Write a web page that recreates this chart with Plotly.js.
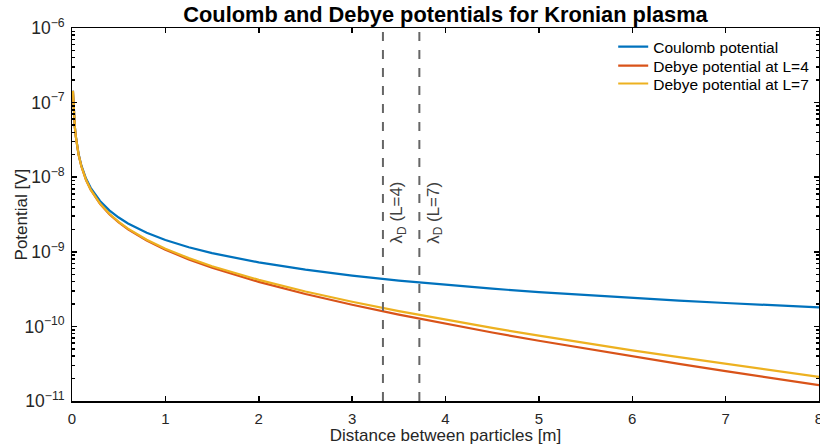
<!DOCTYPE html>
<html>
<head>
<meta charset="utf-8">
<script src="https://cdn.plot.ly/plotly-3.0.1.min.js"></script>
<style>html,body{margin:0;padding:0;background:#fff}#chart{width:820px;height:448px}</style>
</head>
<body>
<div id="chart"></div>
<script>
// Distance between particles [m]
var distance = [0.01, 0.02, 0.03, 0.04, 0.05, 0.07, 0.1, 0.15, 0.2, 0.25, 0.3, 0.4, 0.5, 0.6, 0.7, 0.8, 1.0, 1.25, 1.5, 2, 2.5, 3, 3.5, 4, 4.5, 5, 5.5, 6, 6.5, 7, 7.5, 8];
// Potential [V]
var coulomb = [1.44e-7, 7.2e-8, 4.8e-8, 3.6e-8, 2.88e-8, 2.06e-8, 1.44e-8, 9.6e-9, 7.2e-9, 5.76e-9, 4.8e-9, 3.6e-9, 2.88e-9, 2.4e-9, 2.06e-9, 1.8e-9, 1.44e-9, 1.15e-9, 9.6e-10, 7.2e-10, 5.76e-10, 4.8e-10, 4.11e-10, 3.6e-10, 3.2e-10, 2.88e-10, 2.62e-10, 2.4e-10, 2.22e-10, 2.06e-10, 1.92e-10, 1.8e-10];
var debyeL4 = [1.436e-7, 7.16e-8, 4.76e-8, 3.56e-8, 2.84e-8, 2.02e-8, 1.40e-8, 9.18e-9, 6.78e-9, 5.34e-9, 4.39e-9, 3.19e-9, 2.48e-9, 2.00e-9, 1.67e-9, 1.415e-9, 1.067e-9, 7.91e-10, 6.12e-10, 3.95e-10, 2.72e-10, 1.95e-10, 1.44e-10, 1.083e-10, 8.29e-11, 6.42e-11, 5.03e-11, 3.96e-11, 3.15e-11, 2.52e-11, 2.02e-11, 1.63e-11];
var debyeL7 = [1.436e-7, 7.16e-8, 4.76e-8, 3.56e-8, 2.84e-8, 2.02e-8, 1.402e-8, 9.22e-9, 6.82e-9, 5.39e-9, 4.43e-9, 3.23e-9, 2.52e-9, 2.04e-9, 1.70e-9, 1.452e-9, 1.10e-9, 8.23e-10, 6.41e-10, 4.21e-10, 2.94e-10, 2.14e-10, 1.605e-10, 1.228e-10, 9.55e-11, 7.51e-11, 5.97e-11, 4.78e-11, 3.87e-11, 3.14e-11, 2.56e-11, 2.10e-11];
var seriesNames = ["Coulomb potential", "Debye potential at L=4", "Debye potential at L=7"];
// Debye lengths [m]
var debyeLengths = [3.33, 3.72];
var debyeLabels = ["λ<sub>D</sub> (L=4)", "λ<sub>D</sub> (L=7)"];
var xTicks = [0, 1, 2, 3, 4, 5, 6, 7, 8];

var colors = ["#0072BD", "#D95319", "#EDB120"];
var legendIds = ["legend", "legend2", "legend3"];
var ys = [coulomb, debyeL4, debyeL7];
var traces = ys.map(function (y, i) {
  return {x: distance, y: y, type: "scatter", mode: "lines", name: seriesNames[i],
    legend: legendIds[i], line: {color: colors[i], width: 2.2}};
});

var fam = "'Liberation Sans', Arial, Helvetica, sans-serif";
var font = {family: fam, color: "#262626", size: 14};
var shapes = debyeLengths.map(function (d) {
  return {type: "line", xref: "x", yref: "paper", x0: d, x1: d, y0: 0, y1: 1,
    line: {color: "#666666", width: 2, dash: "dash"}};
});
var annotations = debyeLengths.map(function (d, i) {
  return {x: d, xref: "x", y: 0.5, yref: "paper", text: debyeLabels[i], showarrow: false,
    textangle: -90, xshift: 15, yshift: 2, font: {family: fam, size: 17, color: "#404040"}};
});
annotations.push({x: -0.067, xref: "paper", xanchor: "center", y: 0.5, yref: "paper", yanchor: "middle",
  text: "Potential [V]", showarrow: false, textangle: -90,
  font: {family: fam, size: 17, color: "#262626"}});

function legendAt(yPaper) {
  return {x: 0.7245, y: yPaper, xanchor: "left", yanchor: "middle", bgcolor: "rgba(0,0,0,0)",
    borderwidth: 0, font: {family: fam, size: 15.5, color: "#000"}};
}

var layout = {
  width: 820, height: 448,
  margin: {l: 72, r: 1, t: 28, b: 47},
  paper_bgcolor: "#fff", plot_bgcolor: "#fff",
  font: font,
  title: {text: "<b>Coulomb and Debye potentials for Kronian plasma</b>", x: 0.5, xref: "paper", xanchor: "center",
    y: 0.967, yanchor: "middle", yref: "container", font: {family: fam, size: 21.8, color: "#000"}},
  xaxis: {range: [0, 8], tickvals: xTicks, ticks: "inside", ticklen: 5, tickwidth: 1.5, tickcolor: "#000",
    showline: true, linecolor: "#000", linewidth: 1.5, mirror: "ticks", showgrid: false, zeroline: false,
    ticklabeloverflow: "allow", ticklabelstandoff: 3,
    tickfont: {family: fam, size: 15, color: "#262626"},
    title: {text: "Distance between particles [m]", standoff: 3, font: {family: fam, size: 17, color: "#262626"}}},
  yaxis: {type: "log", range: [-11, -6], dtick: 1, exponentformat: "power", ticks: "inside", ticklen: 5,
    tickwidth: 1.5, tickcolor: "#000", showline: true, linecolor: "#000", linewidth: 1.5, mirror: "ticks",
    showgrid: false, zeroline: false, ticklabelstandoff: 3, ticklabeloverflow: "allow",
    tickfont: {family: fam, size: 14, color: "#262626"},
    minor: {ticks: "inside", ticklen: 3, tickcolor: "#000", showgrid: false}},
  legend: legendAt(0.949),
  legend2: legendAt(0.898),
  legend3: legendAt(0.850),
  shapes: shapes, annotations: annotations, showlegend: true
};
Plotly.newPlot("chart", traces, layout, {displayModeBar: false, staticPlot: true});
</script>
</body>
</html>
